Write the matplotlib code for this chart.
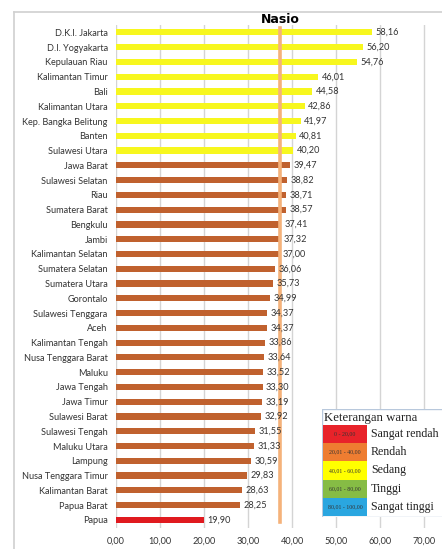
import matplotlib.pyplot as plt
from matplotlib.patches import Rectangle
from matplotlib.lines import Line2D

plt.rcParams['font.family'] = ['Lato', 'DejaVu Sans']

# data
provinsi = ['D.K.I. Jakarta', 'D.I. Yogyakarta', 'Kepulauan Riau', 'Kalimantan Timur', 'Bali',
            'Kalimantan Utara', 'Kep. Bangka Belitung', 'Banten', 'Sulawesi Utara', 'Jawa Barat',
            'Sulawesi Selatan', 'Riau', 'Sumatera Barat', 'Bengkulu', 'Jambi',
            'Kalimantan Selatan', 'Sumatera Selatan', 'Sumatera Utara', 'Gorontalo',
            'Sulawesi Tenggara', 'Aceh', 'Kalimantan Tengah', 'Nusa Tenggara Barat', 'Maluku',
            'Jawa Tengah', 'Jawa Timur', 'Sulawesi Barat', 'Sulawesi Tengah', 'Maluku Utara',
            'Lampung', 'Nusa Tenggara Timur', 'Kalimantan Barat', 'Papua Barat', 'Papua']
nilai = [58.16, 56.20, 54.76, 46.01, 44.58, 42.86, 41.97, 40.81, 40.20, 39.47,
         38.82, 38.71, 38.57, 37.41, 37.32, 37.00, 36.06, 35.73, 34.99, 34.37,
         34.37, 33.86, 33.64, 33.52, 33.30, 33.19, 32.92, 31.55, 31.33, 30.59,
         29.83, 28.63, 28.25, 19.90]
nasional = 37.3
xticks = [0, 10, 20, 30, 40, 50, 60, 70]

# legend data
leg_range = ['0 - 20,00', '20,01 - 40,00', '40,01 - 60,00', '60,01 - 80,00', '80,01 - 100,00']
leg_label = ['Sangat rendah', 'Rendah', 'Sedang', 'Tinggi', 'Sangat tinggi']
leg_color = ['#E8232A', '#EE7D31', '#FFFF00', '#86BC45', '#2AA6E0']


def koma(v):
    return ('%.2f' % v).replace('.', ',')


def warna(v):
    if v <= 20:
        return '#E01A1F'
    if v <= 40:
        return '#C0612E'
    return '#F7F71E'


fig = plt.figure(figsize=(4.42, 5.49), dpi=100)
ax = fig.add_axes([116 / 442, 21 / 549, 326 / 442, 503 / 549])

y = list(range(len(provinsi)))
ax.barh(y, nilai, height=0.42, color=[warna(v) for v in nilai], zorder=3)
ax.set_ylim(33.55, -0.5)
ax.set_xlim(0, 326 / 4.4)
ax.set_yticks(y)
ax.set_yticklabels(provinsi, fontsize=6.6, color='#333333')
ax.set_xticks(xticks)
ax.set_xticklabels([koma(t) for t in xticks], fontsize=6.6, color='#333333')
ax.tick_params(length=0)
ax.tick_params(axis='y', pad=6)
ax.tick_params(axis='x', pad=6)
ax.grid(axis='x', color='#D4D4D4', linewidth=1, zorder=0)
for s in ax.spines.values():
    s.set_visible(False)

for yi, v in zip(y, nilai):
    ax.text(v + 0.8, yi, koma(v), va='center', ha='left',
            fontsize=6.6, color='#333333', zorder=5)

ax.plot([nasional, nasional], [-0.27, 33.13], color='#F5B27A', linewidth=2.6, zorder=4)
ax.text(nasional, -0.84, 'Nasio', ha='center', va='center', fontsize=9, fontweight='bold',
        family=['DejaVu Sans'], color='black')

# outer frame
fig.add_artist(Line2D([14 / 442, 14 / 442], [0, 1 - 12 / 549], color='#D0D0D0', linewidth=1.2))
fig.add_artist(Line2D([14 / 442, 1], [1 - 12 / 549, 1 - 12 / 549], color='#D0D0D0', linewidth=1.2))

# color legend
lax = fig.add_axes([322 / 442, 1 - 517 / 549, 130 / 442, 108 / 549])
lax.set_xlim(0, 130)
lax.set_ylim(108, 0)
lax.axis('off')
lax.add_patch(Rectangle((0, 0), 130, 108, facecolor='white', edgecolor='#B8C8DC', linewidth=1))
lax.text(1.5, 9, 'Keterangan warna', family=['Liberation Serif'], fontsize=9.2,
         color='#222222', va='center', ha='left')
for i in range(len(leg_range)):
    top = 16 + i * 18.2
    lax.add_patch(Rectangle((1, top), 44, 18.2, facecolor=leg_color[i], edgecolor='none'))
    lax.text(23, top + 9.1, leg_range[i], family=['Liberation Serif'], fontsize=4.2,
             color='#333333', ha='center', va='center')
    lax.text(49, top + 9.1, leg_label[i], family=['Liberation Serif'], fontsize=8.6,
             color='#222222', ha='left', va='center')

fig.savefig('out.png', dpi=100)
